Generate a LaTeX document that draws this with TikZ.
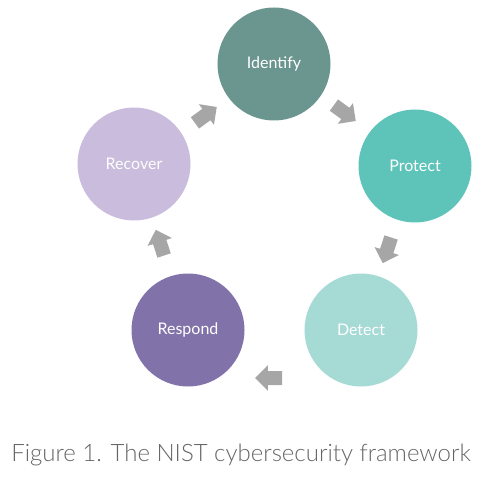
\documentclass[tikz,border=0pt]{standalone}
\usepackage{fontspec}
\setmainfont{Lato}
\newfontfamily\capfont{Lato}[UprightFont={* Light}]
\usetikzlibrary{shapes.arrows}
\definecolor{cIdent}{HTML}{6A968F}
\definecolor{cProt}{HTML}{5EC4BA}
\definecolor{cDet}{HTML}{A6DAD5}
\definecolor{cResp}{HTML}{8272AA}
\definecolor{cRec}{HTML}{C9BCDD}
\definecolor{cArrow}{HTML}{A6A6A6}
\definecolor{cCap}{HTML}{666666}
\begin{document}
\begin{tikzpicture}[x=1pt,y=-1pt,
  phase/.style={circle,minimum size=113pt,inner sep=0pt,text=white,font=\fontsize{16}{18}\selectfont},
  blockarrow/.style={single arrow,fill=cArrow,draw=none,minimum height=27pt,inner sep=6.8pt,single arrow head extend=5.8pt,single arrow head indent=0pt,shape border rotate=0}]
\useasboundingbox (0,0) rectangle (500,478);
\node[phase,fill=cIdent] (id) at (274,64) {Identify};
\node[phase,fill=cProt] (pr) at (415,166) {Protect};
\node[phase,fill=cDet] (de) at (361,330) {Detect};
\node[phase,fill=cResp] (re) at (188,330) {Respond};
\node[phase,fill=cRec] (rc) at (134,164) {Recover};
\node[blockarrow,rotate=-36] (a1) at (342,111) {};
\node[blockarrow,rotate=-108] (a2) at (388,247) {};
\node[blockarrow,rotate=180] (a3) at (272,378) {};
\node[blockarrow,rotate=108] (a4) at (161,246) {};
\node[blockarrow,rotate=36] (a5) at (203,117) {};
\node[text=cCap,font=\capfont\fontsize{24}{27}\selectfont] (cap) at (241,455) {Figure 1. The NIST cybersecurity framework};
\end{tikzpicture}
\end{document}
